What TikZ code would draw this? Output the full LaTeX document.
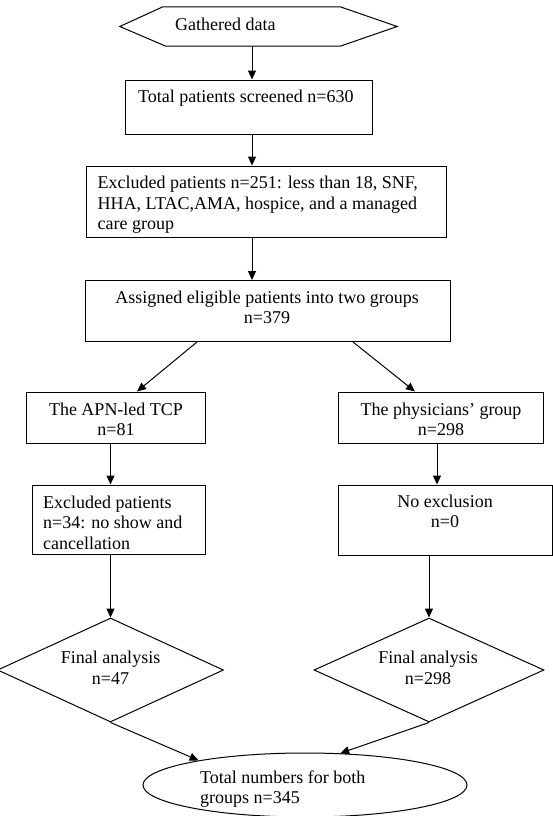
\documentclass[tikz,border=0pt]{standalone}
\usepackage{fontspec}
\setmainfont{Liberation Serif}
\usetikzlibrary{shapes.geometric,arrows.meta}
\newcommand\mytl[1]{\begin{tabular}[t]{@{}l@{}}#1\end{tabular}}
\newcommand\mytc[1]{\begin{tabular}[t]{@{}c@{}}#1\end{tabular}}
\tikzset{
 box/.style={draw, line width=1pt, rectangle, inner sep=0pt},
 shp/.style={draw, line width=1pt, inner sep=0pt},
 arr/.style={draw, line width=1pt, -{Triangle[length=9pt,width=8pt]}},
 txt/.style={inner sep=0pt, font=\fontsize{18}{20.7}\selectfont},
 dtxt/.style={inner sep=0pt, font=\fontsize{18}{21.5}\selectfont},
}
\begin{document}
\begin{tikzpicture}[x=1pt,y=-1pt]
\useasboundingbox (0,0) rectangle (553,816);
% hexagon
\node[inner sep=0pt, minimum width=277pt, minimum height=39pt] (hex) at (258.5,26.5) {};
\draw[line width=1pt] (hex.west) -- ([xshift=43pt]hex.north west) -- ([xshift=-57pt]hex.north east) -- (hex.east) -- ([xshift=-57pt]hex.south east) -- ([xshift=46pt]hex.south west) -- cycle;
\node[txt, anchor=base west] (hext) at (175,31) {Gathered data};
% boxes
\node[box, minimum width=247pt, minimum height=54pt] (b1) at (248.5,107) {};
\node[txt, anchor=base west] (b1t) at (138,102.5) {Total patients screened n=630};
\node[box, minimum width=360pt, minimum height=71pt] (b2) at (266,201.5) {};
\node[txt, anchor=base west] (b2t) at (97.5,188.3) {\mytl{Excluded patients n=251: less than 18, SNF,\\HHA, LTAC,AMA, hospice, and a managed\\care group}};
\node[box, minimum width=365pt, minimum height=61pt] (b3) at (267.5,311) {};
\node[txt, anchor=base] (b3t) at (267,303) {\mytc{Assigned eligible patients into two groups\\n=379}};
\node[box, minimum width=179pt, minimum height=51pt] (bA) at (115.5,417.5) {};
\node[txt, anchor=base] (bAt) at (116,415) {\mytc{The APN-led TCP\\n=81}};
\node[box, minimum width=173pt, minimum height=69pt] (bE) at (118.5,519.5) {};
\node[txt, anchor=base west] (bEt) at (43,508) {\mytl{Excluded patients\\n=34: no show and\\cancellation}};
\node[box, minimum width=205pt, minimum height=51pt] (bP) at (440.5,417.5) {};
\node[txt, anchor=base] (bPt) at (441,415) {\mytc{The physicians’ group\\n=298}};
\node[box, minimum width=214pt, minimum height=70pt] (bN) at (445,520) {};
\node[txt, anchor=base] (bNt) at (445,507) {\mytc{No exclusion\\n=0}};
% diamonds
\node[shp, diamond, minimum width=226pt, minimum height=104pt] (dL) at (110.5,670) {};
\node[dtxt, anchor=base] (dLt) at (110.5,663.3) {\mytc{Final analysis\\n=47}};
\node[shp, diamond, minimum width=230pt, minimum height=104pt] (dR) at (429,670) {};
\node[dtxt, anchor=base] (dRt) at (428,663.3) {\mytc{Final analysis\\n=298}};
% ellipse
\node[shp, ellipse, minimum width=324pt, minimum height=64pt] (ell) at (305,785) {};
\node[inner sep=0pt, font=\fontsize{18}{20}\selectfont, anchor=base west] (ellt) at (200,783.3) {\mytl{Total numbers for both\\groups n=345}};
% arrows
\draw[arr] (hex.south -| 252,0) -- (b1.north -| 252,0);
\draw[arr] (b1.south -| 252,0) -- (b2.north -| 252,0);
\draw[arr] (b2.south -| 252,0) -- (b3.north -| 252,0);
\draw[arr] (b3.south -| 197,0) -- (bA.north -| 137,0);
\draw[arr] (b3.south -| 353,0) -- (bP.north -| 415,0);
\draw[arr] (bA.south -| 110.5,0) -- (bE.north -| 110.5,0);
\draw[arr] (bP.south -| 437,0) -- (bN.north -| 437,0);
\draw[arr] (bE.south -| dL.north) -- (dL.north);
\draw[arr] (bN.south -| dR.north) -- (dR.north);
\draw[arr] (dL.south) -- (ell.167);
\draw[arr] (dR.south) -- (ell.42);
\end{tikzpicture}
\end{document}
